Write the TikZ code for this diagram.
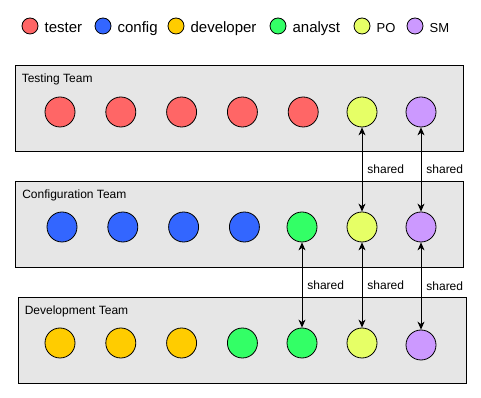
\documentclass[tikz,border=0pt]{standalone}
\usepackage{fontspec}
\setmainfont{Liberation Sans}
\usepackage{xcolor}
\usepackage{tikz}
\usetikzlibrary{positioning,arrows.meta}
\definecolor{tester}{HTML}{FF6666}
\definecolor{config}{HTML}{3366FF}
\definecolor{developer}{HTML}{FFCC00}
\definecolor{analyst}{HTML}{33FF66}
\definecolor{po}{HTML}{E6FF66}
\definecolor{sm}{HTML}{CC99FF}
\definecolor{teambg}{HTML}{E6E6E6}

\begin{document}
\begin{tikzpicture}[x=1pt,y=1pt,node distance=30pt,
  team/.style={draw,fill=teambg,line width=0.8pt,minimum width=448pt,minimum height=86pt,inner sep=0pt},
  teamlbl/.style={anchor=base west,inner sep=0pt,font=\fontsize{12}{14}\selectfont},
  member/.style={circle,draw,line width=0.8pt,minimum size=30pt,inner sep=0pt},
  dot/.style={circle,draw,line width=0.8pt,minimum size=16pt,inner sep=0pt},
  key/.style={inner sep=0pt,text height=13pt,text depth=0pt,font=\fontsize{15}{17}\selectfont},
  lbl/.style={right,inner sep=0pt,xshift=5pt,font=\fontsize{12}{14}\selectfont},
  arr/.style={{Stealth[length=8pt,width=7pt,inset=2.5pt]}-{Stealth[length=8pt,width=7pt,inset=2.5pt]},line width=0.8pt}]
\useasboundingbox (0,0) rectangle (481,398);
% legend
\node[dot,fill=tester] (ktes) at (30,372) {};
\node[key,right=6pt of ktes] {tester};
\node[dot,fill=config] (kcon) at (103,372) {};
\node[key,right=6pt of kcon] {config};
\node[dot,fill=developer] (kdev) at (176,372) {};
\node[key,right=6pt of kdev] {developer};
\node[dot,fill=analyst] (kana) at (278,372) {};
\node[key,right=6pt of kana] {analyst};
\node[dot,fill=po] (kpo) at (362,372) {};
\node[key,right=6pt of kpo,font=\fontsize{13}{15}\selectfont] {PO};
\node[dot,fill=sm] (ksm) at (415,372) {};
\node[key,right=6pt of ksm,font=\fontsize{13}{15}\selectfont] {SM};
% teams
\node[team] (tt) at (239,290) {};
\node[teamlbl] at ([xshift=7pt,yshift=-18pt]tt.north west) {Testing Team};
\node[team] (ct) at (239.5,174) {};
\node[teamlbl] at ([xshift=7pt,yshift=-18pt]ct.north west) {Configuration Team};
\node[team] (dt) at (242,58) {};
\node[teamlbl] at ([xshift=7pt,yshift=-18pt]dt.north west) {Development Team};
% testing team
\node[member,fill=tester] (t1) at (60,286) {};
\node[member,fill=tester,right=of t1] (t2) {};
\node[member,fill=tester,right=of t2] (t3) {};
\node[member,fill=tester,right=of t3] (t4) {};
\node[member,fill=tester,right=of t4] (t5) {};
\node[member,fill=po] (tpo) at (362,286) {};
\node[member,fill=sm] (tsm) at (421,286) {};
% configuration team
\node[member,fill=config] (c1) at (62,171) {};
\node[member,fill=config,right=of c1] (c2) {};
\node[member,fill=config,right=of c2] (c3) {};
\node[member,fill=config,right=of c3] (c4) {};
\node[member,fill=analyst] (cana) at (302,171) {};
\node[member,fill=po] (cpo) at (362,171) {};
\node[member,fill=sm] (csm) at (421,171) {};
% development team
\node[member,fill=developer] (d1) at (60,55) {};
\node[member,fill=developer,right=of d1] (d2) {};
\node[member,fill=developer,right=of d2] (d3) {};
\node[member,fill=analyst,right=of d3] (d4) {};
\node[member,fill=analyst] (dana) at (302,55) {};
\node[member,fill=po] (dpo) at (362,55) {};
\node[member,fill=sm] (dsm) at (421,53) {};
% shared members
\draw[arr] (tpo) -- node[lbl] {shared} (cpo);
\draw[arr] (tsm) -- node[lbl] {shared} (csm);
\draw[arr] (cana) -- node[lbl] {shared} (dana);
\draw[arr] (cpo) -- node[lbl] {shared} (dpo);
\draw[arr] (csm) -- node[lbl] {shared} (dsm);
\end{tikzpicture}
\end{document}
